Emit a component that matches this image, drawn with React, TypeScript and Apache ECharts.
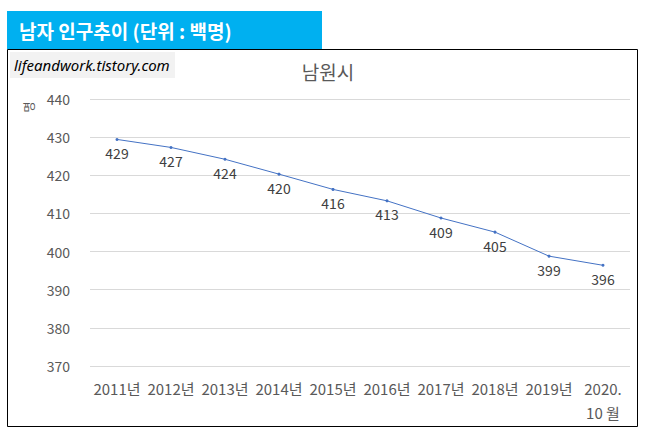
import React, { useEffect, useRef } from "react";
import * as echarts from "echarts";

const categories = ["2011년", "2012년", "2013년", "2014년", "2015년", "2016년", "2017년", "2018년", "2019년", "2020.\n10 월"];
const maleValues = [429.4, 427.3, 424.2, 420.3, 416.3, 413.3, 408.8, 405.1, 398.8, 396.4];
const yTicks = { min: 370, max: 440, interval: 10 };
const headerText = "남자 인구추이 (단위 : 백명)";
const chartTitle = "남원시";
const watermark = "lifeandwork.tistory.com";
const unitName = "명";

export default function App() {
  const ref = useRef<HTMLDivElement>(null);
  useEffect(() => {
    if (!ref.current) return;
    const chart = echarts.init(ref.current, null, { renderer: "svg" });
    const font = "'Malgun Gothic', 'Noto Sans CJK KR', 'Noto Sans', sans-serif";
    chart.setOption({
      animation: false,
      backgroundColor: "#ffffff",
      textStyle: { fontFamily: font },
      title: {
        text: chartTitle,
        left: 323,
        textAlign: "center",
        top: 57,
        textStyle: { fontSize: 19, fontWeight: "normal", color: "#595959", fontFamily: font },
      },
      graphic: [
        { type: "rect", shape: { x: 7, y: 11, width: 315, height: 38 }, style: { fill: "#00B0F0" }, z: 10 },
        { type: "text", x: 19, y: 30, style: { text: headerText, fill: "#ffffff", font: `bold 19px ${font}`, textVerticalAlign: "middle" }, z: 11 },
        { type: "rect", shape: { x: 7.5, y: 49.5, width: 630, height: 377 }, style: { fill: "none", stroke: "#000000", lineWidth: 1 }, z: 10 },
        { type: "rect", shape: { x: 10, y: 52, width: 165, height: 26 }, style: { fill: "#F2F2F2" }, z: 9 },
        { type: "text", x: 14, y: 65, style: { text: watermark, fill: "#000000", font: `italic 15px 'Noto Sans', sans-serif`, textVerticalAlign: "middle" }, z: 11 },
        { type: "text", x: 28, y: 107, rotation: Math.PI / 2, style: { text: unitName, fill: "#595959", font: `12px ${font}`, textAlign: "center", textVerticalAlign: "middle" }, z: 11 },
      ],
      grid: { left: 90, right: 19, top: 99, bottom: 70, containLabel: false },
      xAxis: {
        type: "category",
        data: categories,
        boundaryGap: true,
        axisLine: { show: false },
        axisTick: { show: false },
        axisLabel: { color: "#595959", fontSize: 15, margin: 10, lineHeight: 24, interval: 0, fontFamily: font },
      },
      yAxis: {
        type: "value",
        min: yTicks.min,
        max: yTicks.max,
        interval: yTicks.interval,
        axisLine: { show: false },
        axisTick: { show: false },
        axisLabel: { color: "#595959", fontSize: 14, margin: 20, fontFamily: font, align: "right" },
        splitLine: { lineStyle: { color: "#D9D9D9", width: 1 } },
      },
      series: [
        {
          type: "line",
          data: maleValues,
          symbol: "circle",
          symbolSize: 3,
          lineStyle: { color: "#4472C4", width: 1 },
          itemStyle: { color: "#4472C4" },
          label: {
            show: true,
            position: "bottom",
            distance: 5,
            color: "#404040",
            fontSize: 14,
            fontFamily: font,
            formatter: (p: any) => String(Math.round(p.value)),
          },
        },
      ],
    });
    return () => chart.dispose();
  }, []);
  return <div ref={ref} style={{ position: "fixed", left: 0, top: 0, width: 649, height: 436 }} />;
}
